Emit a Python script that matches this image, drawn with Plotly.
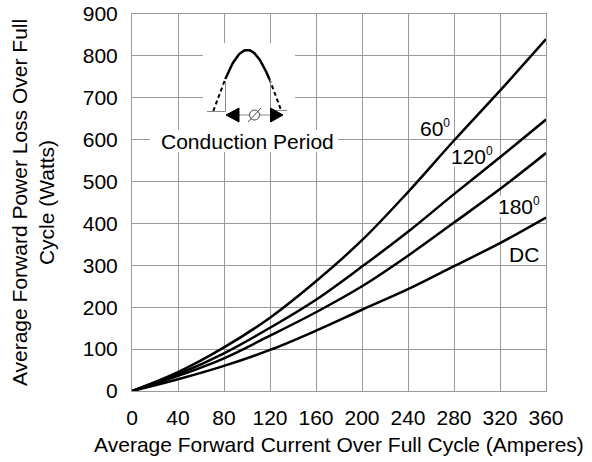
import numpy as np
import plotly.graph_objects as go

# ---- data ----
current = [0, 40, 80, 120, 160, 200, 240, 280, 320, 360]
loss_60 = [0, 45, 104, 175, 262, 360, 475, 598, 717, 840]
loss_120 = [0, 40, 90, 151, 218, 297, 380, 470, 558, 648]
loss_180 = [0, 36, 78, 132, 188, 250, 323, 402, 482, 568]
loss_dc = [0, 28, 60, 98, 144, 194, 243, 298, 353, 414]
x_ticks = [0, 40, 80, 120, 160, 200, 240, 280, 320, 360]
y_ticks = [0, 100, 200, 300, 400, 500, 600, 700, 800, 900]

FONT = "Liberation Sans, Arial, sans-serif"
W, H = 592, 462
ML, MR, MT, MB = 132, 46, 14, 71
X0, X1, Y0, Y1 = 0, 360, 0, 900
PW, PH = W - ML - MR, H - MT - MB


def dx(xpx):
    return X0 + (xpx - ML) * (X1 - X0) / PW


def dy(ypx):
    return Y0 + (H - MB - ypx) * (Y1 - Y0) / PH


fig = go.Figure()

for series in [loss_60, loss_120, loss_180, loss_dc]:
    fig.add_trace(go.Scatter(x=current, y=series, mode="lines",
                             line=dict(color="black", width=2.5, shape="spline", smoothing=1.0),
                             hoverinfo="skip", showlegend=False))

# ---- inset illustration (pixel-placed decoration) ----
cx, half, base, amp = 247.3, 34.0, 111.0, 61.0
t_cut = 0.554
t_solid = np.linspace(t_cut, np.pi - t_cut, 40)
t_l = np.linspace(0, t_cut, 8)
t_r = np.linspace(np.pi - t_cut, np.pi, 8)


def arch(t):
    return [dx(cx - half + ti / np.pi * 2 * half) for ti in t], [dy(base - amp * np.sin(ti)) for ti in t]


xs, ys = arch(t_solid)
fig.add_trace(go.Scatter(x=xs, y=ys, mode="lines", line=dict(color="black", width=2.5),
                         hoverinfo="skip", showlegend=False))
for tt in (t_l, t_r):
    xs, ys = arch(tt)
    fig.add_trace(go.Scatter(x=xs, y=ys, mode="lines",
                             line=dict(color="black", width=2, dash="4px,3px"),
                             hoverinfo="skip", showlegend=False))

shapes = []
# white backgrounds covering the grid
for (a, b, c, d) in [(203, 43, 295, 130), (150, 130, 338, 152),
                     (418, 116, 450, 138), (449, 146, 492, 167),
                     (496, 196, 541, 217), (507, 245, 541, 264)]:
    shapes.append(dict(type="rect", xref="x", yref="y", x0=dx(a), x1=dx(c), y0=dy(d), y1=dy(b),
                       fillcolor="white", line=dict(width=0), layer="between"))
# thin guide lines of the inset
for (a, b, c, d) in [(207, 111.5, 225.5, 111.5), (271, 110.5, 287, 110.5),
                     (225.5, 81, 225.5, 111.5), (270.5, 80, 270.5, 110.5),
                     (238, 115, 249, 115), (259, 115, 270, 115)]:
    shapes.append(dict(type="line", xref="x", yref="y", x0=dx(a), x1=dx(c), y0=dy(b), y1=dy(d),
                       line=dict(color="#888888", width=1), layer="above"))
# arrow heads
for (tip, back) in [(226, 239), (283, 270.5)]:
    path = "M {} {} L {} {} L {} {} Z".format(dx(tip), dy(115), dx(back), dy(108), dx(back), dy(122))
    shapes.append(dict(type="path", xref="x", yref="y", path=path, fillcolor="black",
                       line=dict(color="black", width=1), layer="above"))
# diameter sign
shapes.append(dict(type="circle", xref="x", yref="y", x0=dx(249.5), x1=dx(259.5), y0=dy(120), y1=dy(110),
                   line=dict(color="#444444", width=1), layer="above"))
shapes.append(dict(type="line", xref="x", yref="y", x0=dx(248), x1=dx(261), y0=dy(122), y1=dy(108),
                   line=dict(color="#444444", width=1), layer="above"))

SUP = "<sup><span style='font-size:12px'>0</span></sup>"
annotations = [
    dict(x=dx(247), y=dy(141.5), text="Conduction Period", xanchor="center", yanchor="middle"),
    dict(x=dx(418), y=dy(128), text="60" + SUP, xanchor="left", yanchor="middle"),
    dict(x=dx(449), y=dy(156), text="120" + SUP, xanchor="left", yanchor="middle"),
    dict(x=dx(496), y=dy(206), text="180" + SUP, xanchor="left", yanchor="middle"),
    dict(x=dx(507), y=dy(254.5), text="DC", xanchor="left", yanchor="middle"),
]
for a in annotations:
    a.update(xref="x", yref="y", showarrow=False, font=dict(family=FONT, size=21, color="black"))

axis_common = dict(showgrid=True, gridcolor="#9a9a9a", gridwidth=1, showline=True, linecolor="#9a9a9a",
                   linewidth=1, mirror=True, zeroline=False, ticks="", automargin=False,
                   tickfont=dict(family=FONT, size=21, color="black"))

fig.update_layout(
    width=W, height=H, margin=dict(l=ML, r=MR, t=MT, b=MB, autoexpand=False),
    paper_bgcolor="white", plot_bgcolor="white",
    font=dict(family=FONT, color="black"),
    xaxis=dict(range=[X0, X1], tickvals=x_ticks, ticktext=[str(v) for v in x_ticks],
               title=dict(text="Average Forward Current Over Full Cycle (Amperes)",
                          font=dict(family=FONT, size=21, color="black"), standoff=9),
               ticklabelstandoff=8, **axis_common),
    yaxis=dict(range=[Y0, Y1], tickvals=y_ticks, ticktext=[str(v) for v in y_ticks],
               title=dict(text="Average Forward Power Loss Over Full<br>Cycle (Watts)",
                          font=dict(family=FONT, size=21, color="black"), standoff=22),
               ticklabelstandoff=9, **axis_common),
    shapes=shapes, annotations=annotations,
)

fig.write_html("out.html", config={"displayModeBar": False},
               post_script="document.body.style.margin='0';document.body.style.overflow='hidden';")
